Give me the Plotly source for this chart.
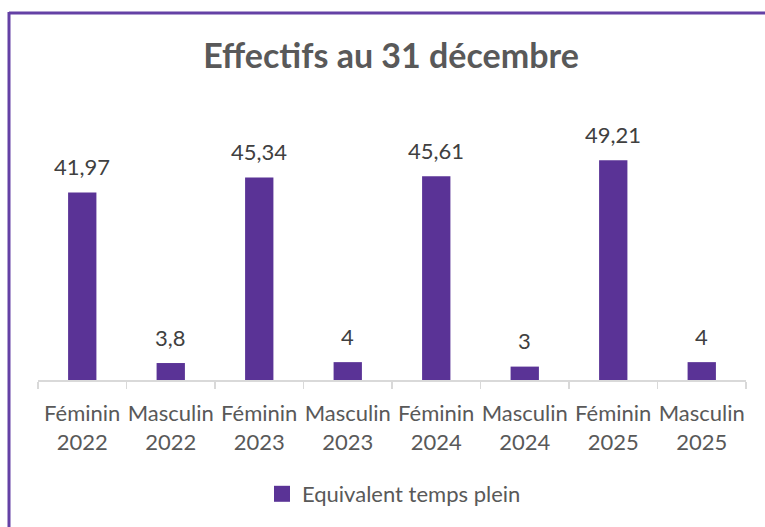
import plotly.graph_objects as go

categories = ["Féminin<br>2022", "Masculin<br>2022", "Féminin<br>2023", "Masculin<br>2023",
              "Féminin<br>2024", "Masculin<br>2024", "Féminin<br>2025", "Masculin<br>2025"]
values = [41.97, 3.8, 45.34, 4, 45.61, 3, 49.21, 4]
series_name = "Equivalent temps plein"
title_text = "Effectifs au 31 décembre"

labels = [f"{v:g}".replace(".", ",") for v in values]

BAR = "#5A3396"
TXT = "#595959"
FONT = "Lato"

W, H = 765, 527
L, R, T, B = 38, 19, 112, 147
pw, ph = W - L - R, H - T - B

def px(x):
    return (x - L) / pw

def py(y):
    return (H - B - y) / ph

fig = go.Figure()
fig.add_trace(go.Bar(
    x=categories, y=values, name=series_name,
    marker=dict(color=BAR, line=dict(width=0)),
    showlegend=False, hoverinfo="skip",
))
# legend entry (square swatch)
fig.add_trace(go.Scatter(
    x=[None], y=[None], mode="markers", name=series_name,
    marker=dict(symbol="square", size=16, color=BAR),
    showlegend=True,
))

for c, v, t in zip(categories, values, labels):
    fig.add_annotation(x=c, y=v, text=t, showarrow=False, yanchor="middle",
                       yshift=26, font=dict(family=FONT, size=22, color="#404040"))

# chart frame (top and left edges visible)
fig.add_shape(type="line", xref="paper", yref="paper",
              x0=px(9), y0=py(13), x1=px(770), y1=py(13),
              line=dict(color="#6441A5", width=3))
fig.add_shape(type="line", xref="paper", yref="paper",
              x0=px(9), y0=py(12), x1=px(9), y1=py(535),
              line=dict(color="#6441A5", width=3))

fig.update_layout(
    width=W, height=H,
    margin=dict(l=L, r=R, t=T, b=B),
    paper_bgcolor="white", plot_bgcolor="white",
    bargap=0.68,
    title=dict(text=f"<b>{title_text}</b>", x=391 / W, xanchor="center",
               y=1 - 56 / H, yanchor="middle", yref="container",
               font=dict(family=FONT, size=34, color=TXT)),
    legend=dict(orientation="h", x=px(394), xanchor="center", y=py(494), yanchor="middle",
                font=dict(family=FONT, size=22, color=TXT), bgcolor="rgba(0,0,0,0)",
                itemsizing="trace"),
    xaxis=dict(type="category", tickangle=0, showline=True, linecolor="#D9D9D9", linewidth=1.5,
               ticks="outside", tickson="boundaries", ticklen=7, tickcolor="#D9D9D9", tickwidth=1.5,
               tickfont=dict(family=FONT, size=22, color=TXT), ticklabelstandoff=13,
               showgrid=False, fixedrange=True),
    yaxis=dict(range=[0, 60], visible=False, showgrid=False, zeroline=False, fixedrange=True),
    font=dict(family=FONT),
    hovermode=False,
)

fig.write_html("out.html", config={"displayModeBar": False, "staticPlot": True},
               post_script="document.body.style.margin='0';document.body.style.overflow='hidden';")
